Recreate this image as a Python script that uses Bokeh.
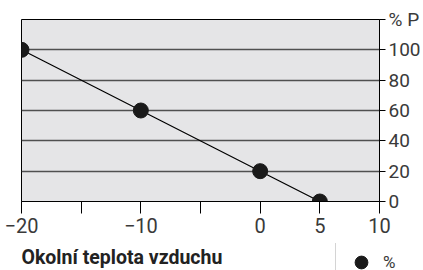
from bokeh.plotting import figure
from bokeh.layouts import column, row
from bokeh.models import FixedTicker, Range1d, LinearAxis, Label, Legend, LegendItem
from bokeh.embed import file_html
from bokeh.resources import INLINE

# Data
temps = [-20, -10, 0, 5]
percent = [100, 60, 20, 0]
x_ticks = [-20, -15, -10, -5, 0, 5, 10]
x_labels = {-20: "\u221220", -15: "", -10: "\u221210", -5: "", 0: "0", 5: "5", 10: "10"}
y_ticks = [0, 20, 40, 60, 80, 100, 120]
y_labels = {0: "0", 20: "20", 40: "40", 60: "60", 80: "80", 100: "100", 120: "% P"}
x_title = "Okolní teplota vzduchu"
series_name = "%"

FONT = "Roboto"

p = figure(width=423, height=243, output_backend="svg", toolbar_location=None,
           x_range=Range1d(-20, 10), y_range=Range1d(0, 120),
           x_axis_location=None, y_axis_location=None,
           min_border_left=21, min_border_top=19, min_border_right=42, min_border_bottom=42)
p.background_fill_color = "#e5e5e7"
p.border_fill_color = "white"
p.outline_line_color = "black"
p.outline_line_width = 1
p.xgrid.visible = False
p.ygrid.ticker = FixedTicker(ticks=[20, 40, 60, 80, 100])
p.ygrid.grid_line_color = "#505050"
p.ygrid.grid_line_width = 1.3

xa = LinearAxis(ticker=FixedTicker(ticks=x_ticks), major_label_overrides=x_labels)
xa.axis_line_color = "black"
xa.major_tick_line_color = "black"
xa.major_tick_out = 12
xa.major_tick_in = 0
xa.minor_tick_line_color = None
xa.major_label_text_font = FONT
xa.major_label_text_font_size = "20px"
xa.major_label_text_color = "#3a3a3a"
xa.major_label_standoff = 4
p.add_layout(xa, "below")

ya = LinearAxis(ticker=FixedTicker(ticks=y_ticks), major_label_overrides=y_labels)
ya.axis_line_color = "black"
ya.major_tick_line_color = "black"
ya.major_tick_out = 6
ya.major_tick_in = 0
ya.minor_tick_line_color = None
ya.major_label_text_font = FONT
ya.major_label_text_font_size = "19px"
ya.major_label_text_color = "#3a3a3a"
ya.major_label_standoff = 3
p.add_layout(ya, "right")

p.line(temps, percent, line_color="black", line_width=1.2)
p.scatter(temps, percent, size=15, fill_color="#1a1a1a", line_color="#1a1a1a")

# Bottom strip: axis title and legend
p2 = figure(width=423, height=27, output_backend="svg", toolbar_location=None,
            x_range=Range1d(100, 101), y_range=Range1d(200, 201),
            x_axis_location=None, y_axis_location=None,
            min_border_left=0, min_border_right=0, min_border_top=0, min_border_bottom=0)
p2.outline_line_color = None
p2.xgrid.visible = False
p2.ygrid.visible = False
p2.background_fill_color = "white"

title = Label(x=21, y=13, x_units="screen", y_units="screen", text=x_title,
              text_font=FONT, text_font_size="19.5px",
              text_font_style="bold", text_color="#222222", text_baseline="middle")
p2.add_layout(title)

# legend proxy: same series, drawn outside this strip's visible ranges
legend_pts = p2.scatter(temps, percent, size=14, fill_color="#1a1a1a", line_color="#1a1a1a")
legend = Legend(items=[LegendItem(label=series_name, renderers=[legend_pts])],
                location=(335, -12), orientation="vertical")
legend.label_text_font = FONT
legend.label_text_font_size = "17px"
legend.label_text_color = "#3a3a3a"
legend.label_text_baseline = "alphabetic"
legend.border_line_color = "#aaaaaa"
legend.background_fill_color = "white"
legend.background_fill_alpha = 1
legend.padding = 3
legend.glyph_width = 44
legend.glyph_height = 32
legend.label_standoff = 0
legend.label_width = 80
legend.margin = 0
p2.add_layout(legend, "center")

layout = column(p, row(p2, spacing=0), spacing=0)
open("out.html", "w").write(file_html(layout, INLINE))
